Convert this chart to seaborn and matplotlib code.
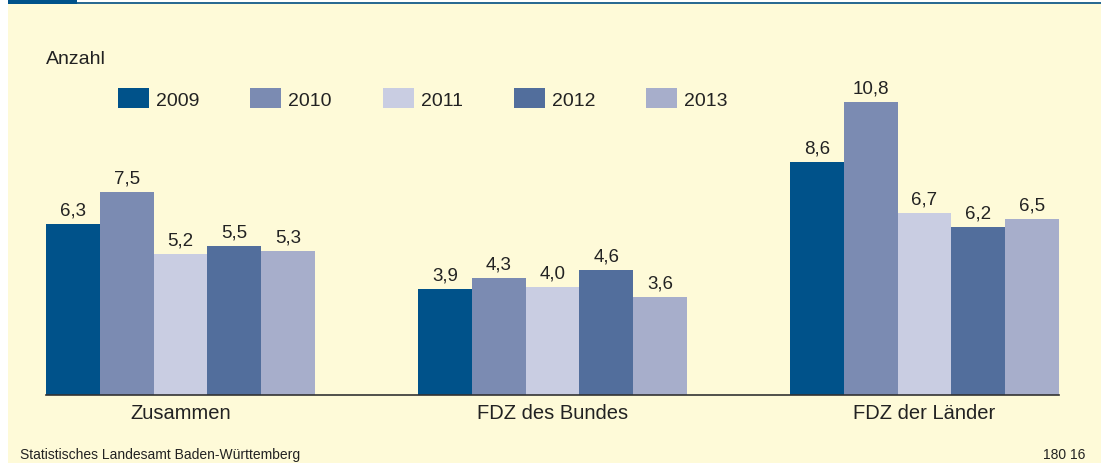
import matplotlib
matplotlib.use("Agg")
import matplotlib.pyplot as plt
import seaborn as sns
import pandas as pd
from matplotlib.patches import Rectangle

categories = ["Zusammen", "FDZ des Bundes", "FDZ der Länder"]
years = ["2009", "2010", "2011", "2012", "2013"]
v2009 = [6.3, 3.9, 8.6]
v2010 = [7.5, 4.3, 10.8]
v2011 = [5.2, 4.0, 6.7]
v2012 = [5.5, 4.6, 6.2]
v2013 = [5.3, 3.6, 6.5]
colors = ["#00528A", "#7B8BB2", "#C9CDE2", "#526E9C", "#A7AECB"]

rows = []
for y, vals in zip(years, [v2009, v2010, v2011, v2012, v2013]):
    for c, v in zip(categories, vals):
        rows.append({"Kategorie": c, "Jahr": y, "Anzahl": v})
df = pd.DataFrame(rows)

sns.set_theme(style="white")
plt.rcParams["font.family"] = ["Liberation Sans", "DejaVu Sans"]

W, H = 1101, 464
fig = plt.figure(figsize=(W / 100, H / 100), dpi=100)
fig.patch.set_facecolor("white")
bg = "#FEFAD8"
fig.patches.append(Rectangle((8 / W, 0), 1 - 8 / W, 1 - 5 / H, transform=fig.transFigure,
                             facecolor=bg, edgecolor="none", zorder=-10))
# top decoration
fig.patches.append(Rectangle((8 / W, 1 - 5 / H), 1 - 8 / W, 2 / H, transform=fig.transFigure,
                             facecolor="#2A6A92", edgecolor="none", zorder=-5))
fig.patches.append(Rectangle((8 / W, 1 - 5 / H), 69 / W, 5 / H, transform=fig.transFigure,
                             facecolor="#00528A", edgecolor="none", zorder=-4))

ax_l, ax_r = 46, 1059
ax_top, ax_bot = 30, 396
ax = fig.add_axes([ax_l / W, 1 - ax_bot / H, (ax_r - ax_l) / W, (ax_bot - ax_top) / H])
ax.set_facecolor("none")

gw = 0.723
sns.barplot(data=df, x="Kategorie", y="Anzahl", hue="Jahr", order=categories,
            hue_order=years, palette=colors, saturation=1, width=gw, gap=0,
            ax=ax, edgecolor="none", linewidth=0)

unit = 27.1
ax.set_ylim(0, (ax_bot - ax_top) / unit)
ax.set_xlim(-gw / 2, 2 + gw / 2)

for cont in ax.containers:
    labels = [f"{b.get_height():.1f}".replace(".", ",") for b in cont]
    ax.bar_label(cont, labels=labels, padding=4, fontsize=13.5, color="#222222")

for s in ["top", "left", "right"]:
    ax.spines[s].set_visible(False)
ax.spines["bottom"].set_color("#333333")
ax.spines["bottom"].set_linewidth(1.2)
ax.set_yticks([])
ax.set_xlabel("")
ax.set_ylabel("")
ax.tick_params(axis="x", length=0, pad=6, labelsize=14.5, colors="#222222")

fs = 14
px = fs * 100 / 72
leg = ax.legend(loc="center left", bbox_to_anchor=(118 / W, 1 - 99.5 / H),
                bbox_transform=fig.transFigure,
                ncol=5, frameon=False, handlelength=31 / px, handleheight=23 / px,
                handletextpad=7 / px, columnspacing=51 / px, fontsize=fs,
                borderaxespad=0, borderpad=0)
for t in leg.get_texts():
    t.set_color("#222222")

fig.text(46 / W, 1 - 60 / H, "Anzahl", fontsize=14, color="#222222", va="center", ha="left")
fig.text(20 / W, 1 - 455 / H, "Statistisches Landesamt Baden-Württemberg", fontsize=10,
         color="#222222", va="center", ha="left")
fig.text(1085 / W, 1 - 455 / H, "180 16", fontsize=10, color="#222222", va="center", ha="right")

fig.savefig("out.png", dpi=100)
